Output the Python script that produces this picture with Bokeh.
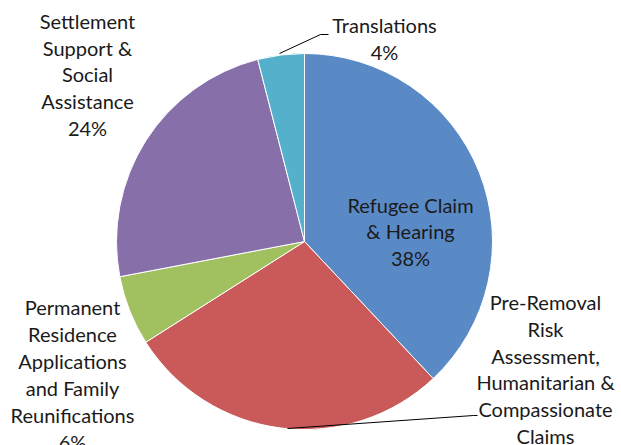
import numpy as np
from bokeh.plotting import figure
from bokeh.models import Range1d, ColumnDataSource
from bokeh.core.properties import value
from bokeh.embed import file_html
from bokeh.resources import INLINE

# ---- data ----
categories = [
    "Refugee Claim & Hearing",
    "Pre-Removal Risk Assessment, Humanitarian & Compassionate Claims",
    "Permanent Residence Applications and Family Reunifications",
    "Settlement Support & Social Assistance",
    "Translations",
]
values = [38, 28, 6, 24, 4]
label_texts = [
    "Refugee Claim\n& Hearing",
    "Pre-Removal\nRisk\nAssessment,\nHumanitarian &\nCompassionate\nClaims",
    "Permanent\nResidence\nApplications\nand Family\nReunifications",
    "Settlement\nSupport &\nSocial\nAssistance",
    "Translations",
]
colors = ["#5A8AC6", "#C95A59", "#A1C05F", "#876FAA", "#55B1CB"]

# ---- layout (pixel coordinates, y downward) ----
W, H = 621, 445
cx, cy, R = 304, 241, 188
label_pos = [(410, 231), (545, 382), (72, 374), (87, 74), (384, 38)]


def Y(py):
    return H - py


vals = np.array(values, dtype=float)
frac = vals / vals.sum()
cum = np.concatenate([[0], np.cumsum(frac)])
start = np.pi / 2 - cum[1:] * 2 * np.pi
end = np.pi / 2 - cum[:-1] * 2 * np.pi

p = figure(width=W, height=H, x_range=Range1d(0, W), y_range=Range1d(0, H),
           output_backend="svg", toolbar_location=None, min_border=0)
p.axis.visible = False
p.grid.visible = False
p.outline_line_color = None
p.background_fill_color = "white"
p.border_fill_color = "white"

src = ColumnDataSource(dict(start=start, end=end, color=colors, cat=categories))
p.wedge(x=cx, y=Y(cy), radius=R, start_angle="start", end_angle="end",
        fill_color="color", line_color="white", line_width=1, source=src)

# leader lines
p.line(x=[279, 320, 328], y=[Y(53), Y(34), Y(34)], line_color="black", line_width=1)
p.line(x=[287, 473, 477], y=[Y(428), Y(415), Y(415)], line_color="black", line_width=1)

texts = [f"{t}\n{v}%" for t, v in zip(label_texts, values)]
lsrc = ColumnDataSource(dict(x=[q[0] for q in label_pos], y=[Y(q[1]) for q in label_pos], t=texts))
p.text(x="x", y="y", text="t", source=lsrc, text_align="center", text_baseline="middle",
       text_font=value("Lato"), text_font_size="20px", text_line_height=1.12,
       text_color="#1a1a1a")

open("out.html", "w").write(file_html(p, INLINE))
